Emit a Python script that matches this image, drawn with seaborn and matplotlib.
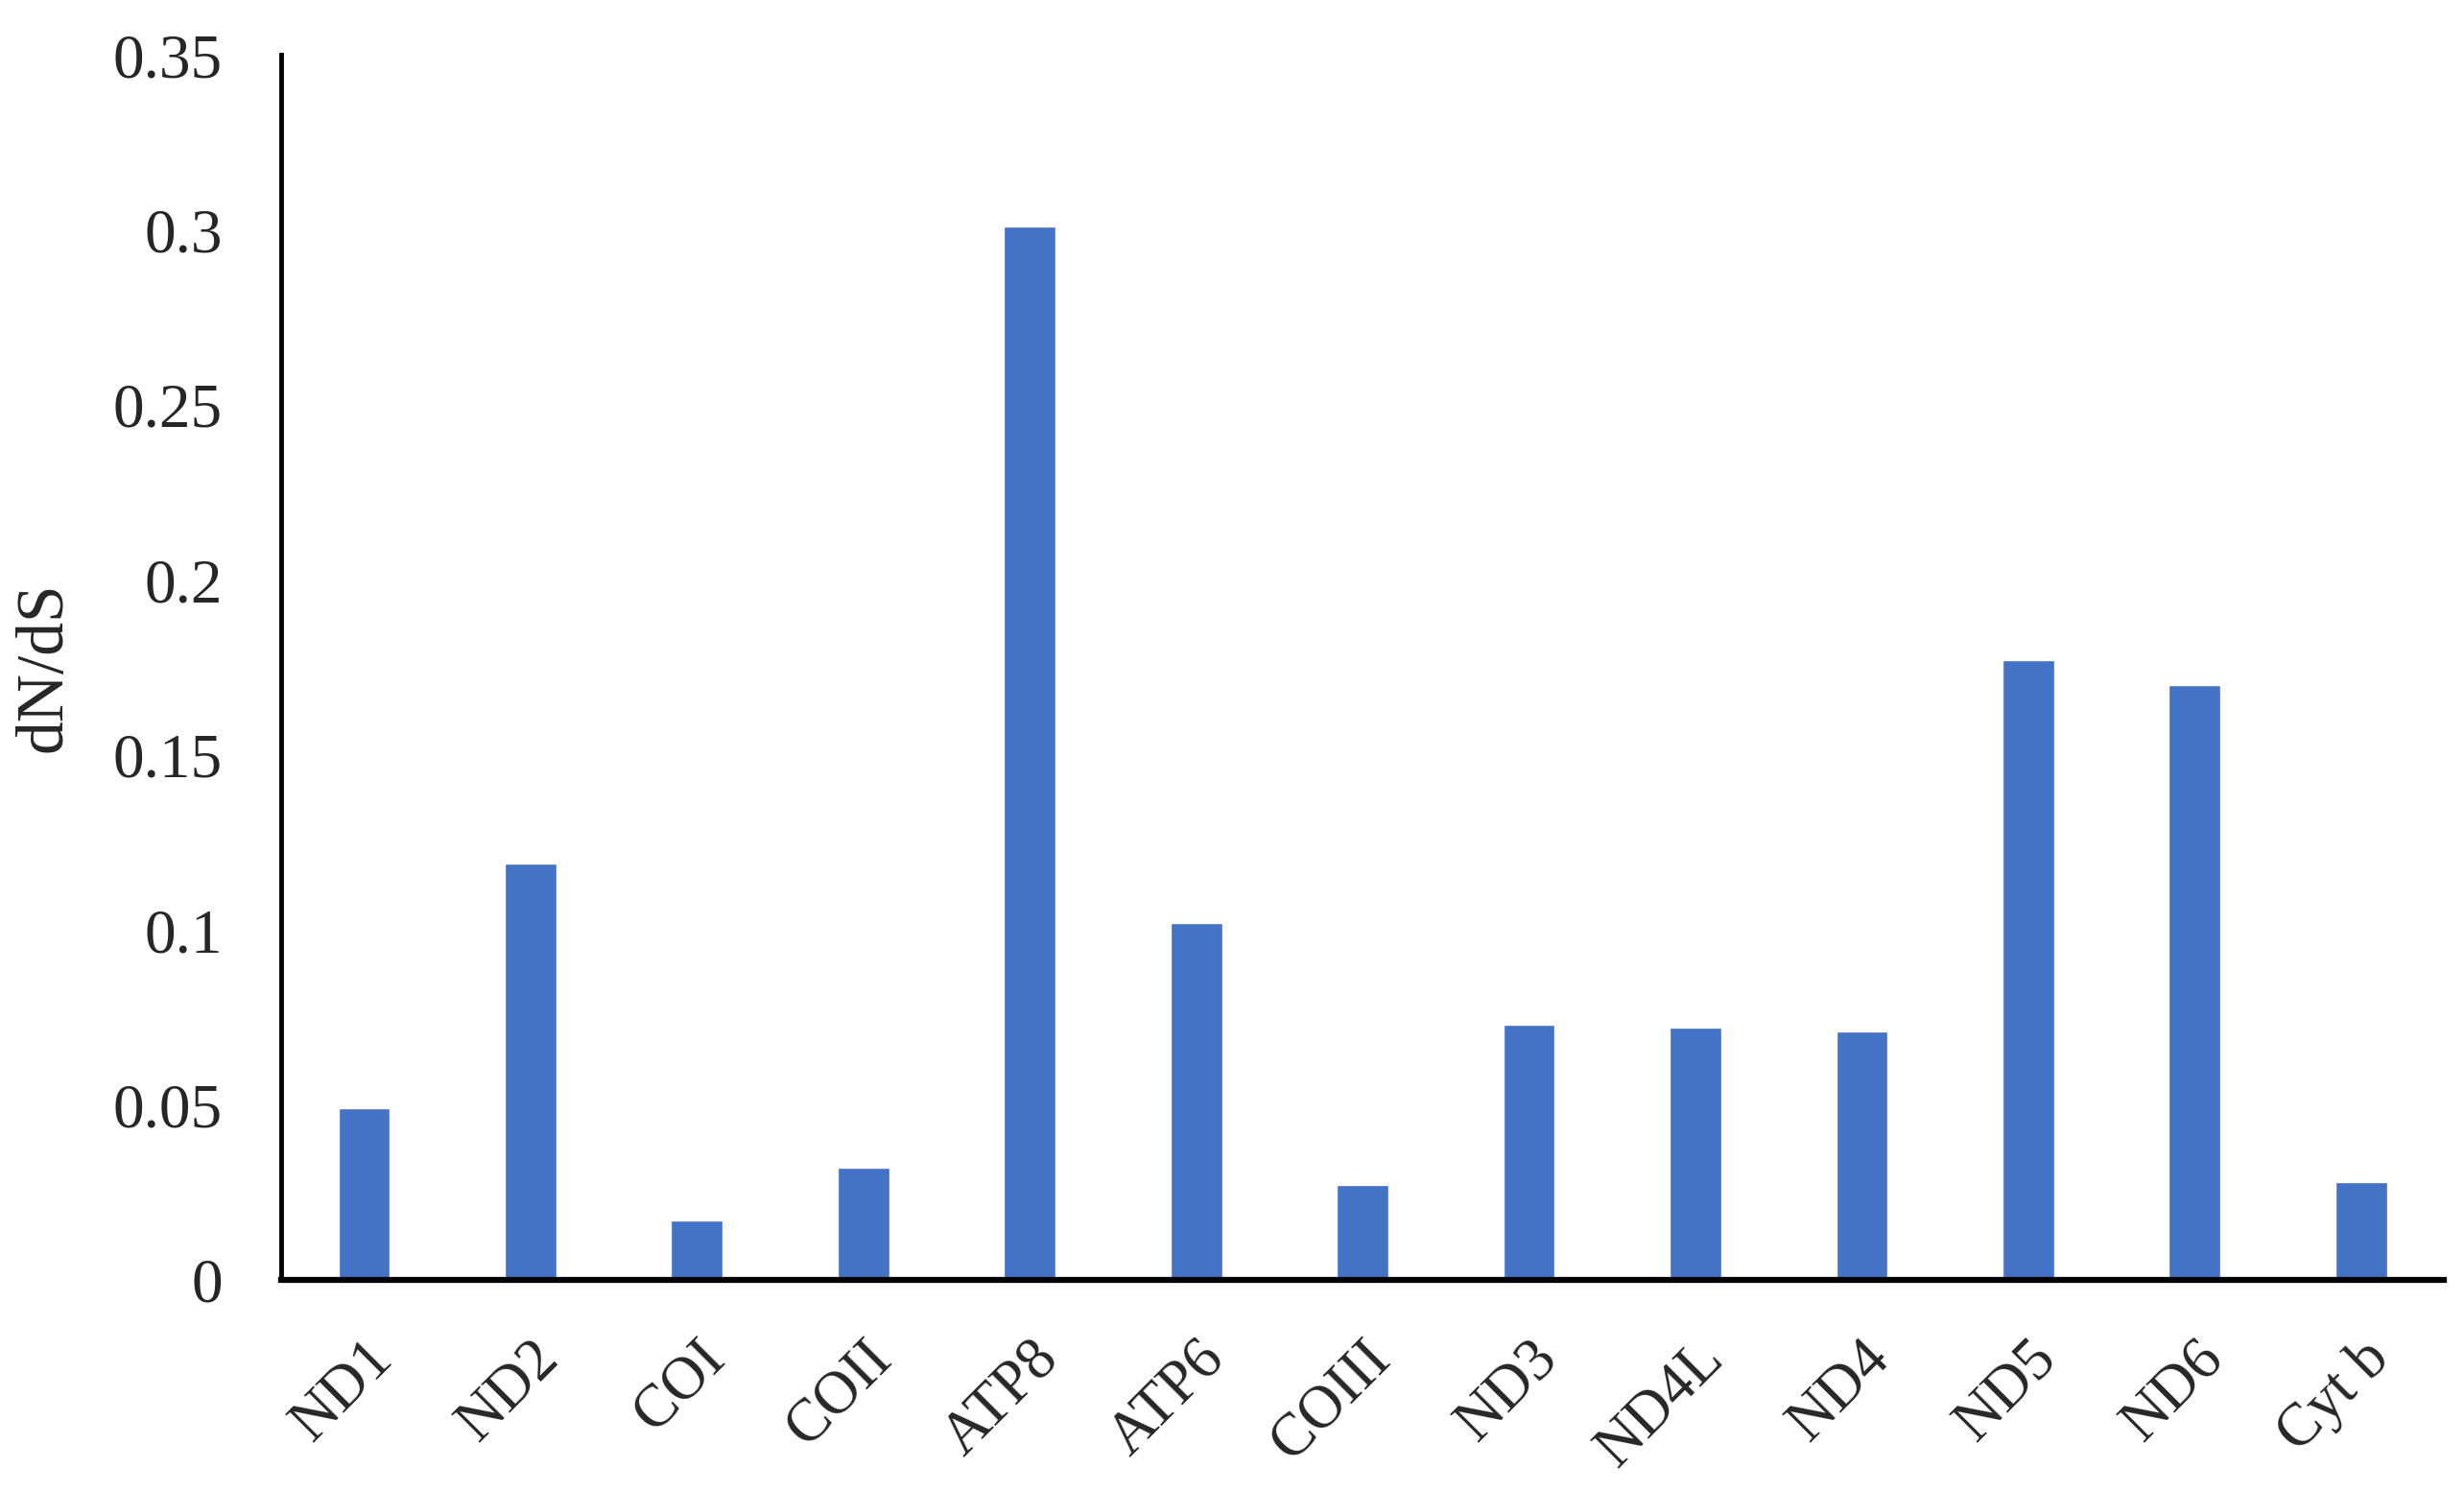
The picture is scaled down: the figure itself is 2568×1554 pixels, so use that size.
import matplotlib.pyplot as plt
import pandas as pd
import seaborn as sns

genes = ["ND1", "ND2", "COI", "COII", "ATP8", "ATP6", "COIII",
         "ND3", "ND4L", "ND4", "ND5", "ND6", "Cyt b"]
dnds = [0.049, 0.119, 0.017, 0.032, 0.301, 0.102, 0.027,
        0.073, 0.072, 0.071, 0.177, 0.170, 0.028]
y_ticks = [0, 0.05, 0.1, 0.15, 0.2, 0.25, 0.3, 0.35]
y_tick_labels = ["0", "0.05", "0.1", "0.15", "0.2", "0.25", "0.3", "0.35"]


def main() -> None:
    sns.set_theme(style="white")
    plt.rcParams["font.family"] = ["Liberation Serif", "DejaVu Serif"]

    df = pd.DataFrame({"gene": genes, "dnds": dnds})

    fig = plt.figure(figsize=(25.68, 15.54), dpi=100)
    ax = fig.add_axes([0.114, 0.1416, 0.878, 0.8214])
    sns.barplot(data=df, x="gene", y="dnds", color="#4472C4",
                saturation=1, width=0.31, ax=ax)

    ax.set_xlim(-0.5, len(genes) - 0.5)
    ax.set_ylim(0, 0.35)
    ax.set_yticks(y_ticks)
    ax.set_yticklabels(y_tick_labels)
    ax.set_xlabel("")
    ax.set_ylabel("dN/dS", fontsize=50, labelpad=28)

    ax.tick_params(axis="y", length=0, pad=44, labelsize=47)
    ax.tick_params(axis="x", length=0, pad=38, labelsize=45)
    for lbl in ax.get_xticklabels():
        lbl.set_rotation(45)
        lbl.set_ha("right")
        lbl.set_rotation_mode("anchor")

    for side in ["top", "right"]:
        ax.spines[side].set_visible(False)
    ax.spines["left"].set_linewidth(3.5)
    ax.spines["bottom"].set_linewidth(4.5)
    ax.spines["left"].set_color("black")
    ax.spines["bottom"].set_color("black")

    fig.savefig("out.png", dpi=100, facecolor="white")
    plt.close(fig)


if __name__ == "__main__":
    main()
